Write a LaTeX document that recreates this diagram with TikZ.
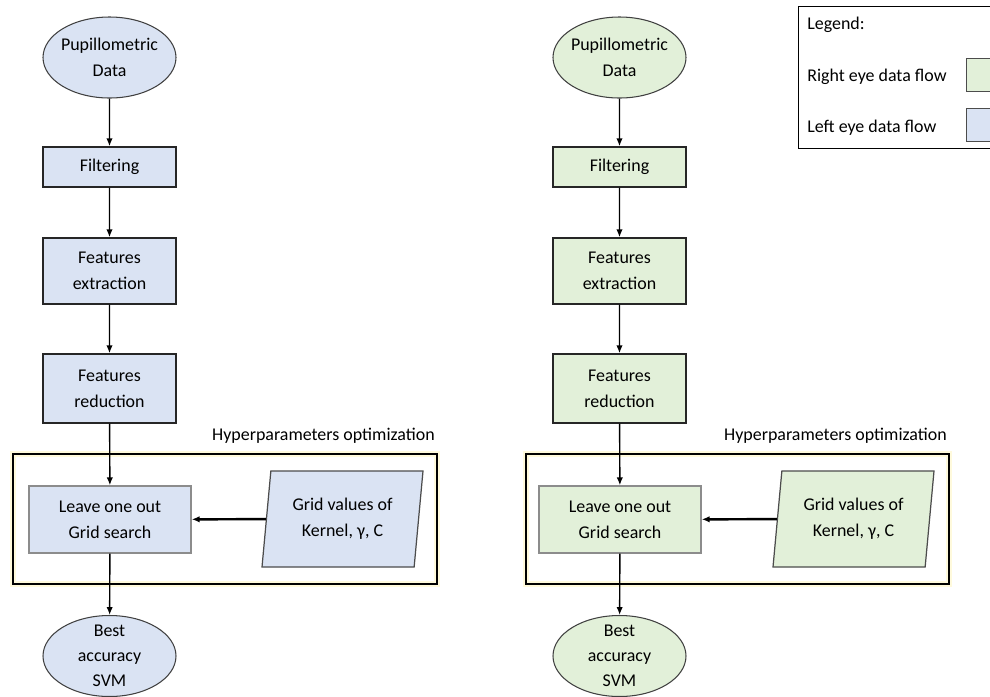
\documentclass[tikz,border=0pt]{standalone}
\usepackage{fontspec}
\setmainfont{Carlito}
\usetikzlibrary{shapes.geometric,arrows.meta}
\definecolor{leftfill}{HTML}{DAE3F3}
\definecolor{rightfill}{HTML}{E2F0D9}
\definecolor{glow}{HTML}{FFFADC}

\tikzset{
	every node/.append style={font=\fontsize{10.2}{15}\selectfont, align=center},
	box/.style={draw=black!85, line width=0.8pt, rectangle, inner sep=0pt, minimum width=2.66cm},
	terminal/.style={draw=black!75, line width=0.6pt, ellipse, inner sep=0pt, minimum width=2.66cm, minimum height=1.62cm},
	searchbox/.style={draw=black!45, line width=0.8pt, rectangle, inner sep=0pt, minimum width=3.24cm, minimum height=1.34cm},
	gridbox/.style={draw=black!70, line width=0.7pt, trapezium, trapezium left angle=78, trapezium right angle=102, trapezium stretches body, inner sep=0pt, minimum width=3.22cm, minimum height=1.92cm},
	frame/.style={draw=black, line width=0.8pt, preaction={draw=glow, line width=3.2pt}, minimum height=2.6cm},
	legendtext/.style={anchor=west, inner sep=0pt},
	swatch/.style={draw=black!70, line width=0.6pt, anchor=north west, minimum width=1cm, minimum height=0.66cm},
	flow/.style={-{Latex[length=4.5pt,width=3.6pt]}, line width=0.8pt},
}

\begin{document}
\begin{tikzpicture}[scale=0.2]
		\useasboundingbox (0,0) rectangle (99,-69.6);
		\clip (0,0) rectangle (99,-69.6);
		% left eye
		\node [terminal, fill=leftfill, label={center:Pupillometric\\Data}] (dataL) at (10.95,-5.75) {};
		\node [box, fill=leftfill, minimum height=0.8cm] (filtL) at (10.95,-16.7) {Filtering};
		\node [box, fill=leftfill, minimum height=1.32cm] (extrL) at (10.95,-27.1) {Features\\extraction};
		\node [box, fill=leftfill, minimum height=1.38cm] (reduL) at (10.95,-38.85) {Features\\reduction};
		\node [frame, minimum width=8.48cm] (hypL) at (22.5,-51.9) {};
		\node [anchor=east, inner sep=0pt] (hypTL) at (43.5,-43.6) {Hyperparameters optimization};
		\node [searchbox, fill=leftfill] (looL) at (11,-51.95) {Leave one out\\Grid search};
		\node [gridbox, fill=leftfill] (gridL) at (34.25,-51.9) {Grid values of\\Kernel, γ, C};
		\node [terminal, fill=leftfill, label={[font=\fontsize{10.2}{14.2}\selectfont]center:Best\\accuracy\\SVM}] (bestL) at (10.95,-65.6) {};
		\draw [flow] (dataL) -- (filtL);
		\draw [flow] (filtL) -- (extrL);
		\draw [flow] (extrL) -- (reduL);
		\draw [flow] (reduL) -- (looL);
		\draw [flow] (looL) -- (bestL);
		\draw [flow, line width=1.4pt] (gridL) -- (looL);
		% right eye
		\node [terminal, fill=rightfill, label={center:Pupillometric\\Data}] (dataR) at (61.95,-5.75) {};
		\node [box, fill=rightfill, minimum height=0.8cm] (filtR) at (61.95,-16.7) {Filtering};
		\node [box, fill=rightfill, minimum height=1.32cm] (extrR) at (61.95,-27.1) {Features\\extraction};
		\node [box, fill=rightfill, minimum height=1.38cm] (reduR) at (61.95,-38.85) {Features\\reduction};
		\node [frame, minimum width=8.46cm] (hypR) at (73.75,-51.9) {};
		\node [anchor=east, inner sep=0pt] (hypTR) at (94.7,-43.6) {Hyperparameters optimization};
		\node [searchbox, fill=rightfill] (looR) at (62,-51.95) {Leave one out\\Grid search};
		\node [gridbox, fill=rightfill] (gridR) at (85.35,-51.9) {Grid values of\\Kernel, γ, C};
		\node [terminal, fill=rightfill, label={[font=\fontsize{10.2}{14.2}\selectfont]center:Best\\accuracy\\SVM}] (bestR) at (61.95,-65.6) {};
		\draw [flow] (dataR) -- (filtR);
		\draw [flow] (filtR) -- (extrR);
		\draw [flow] (extrR) -- (reduR);
		\draw [flow] (reduR) -- (looR);
		\draw [flow] (looR) -- (bestR);
		\draw [flow, line width=1.4pt] (gridR) -- (looR);
		% legend
		\node [draw=black, line width=0.8pt, anchor=north west, minimum width=4.2cm, minimum height=2.84cm] (legend) at (79.8,-0.6) {};
		\node [legendtext] (legT) at (80.7,-2.5) {Legend:};
		\node [legendtext] (legR) at (80.7,-7.7) {Right eye data flow};
		\node [legendtext] (legL) at (80.7,-12.8) {Left eye data flow};
		\node [swatch, fill=rightfill] (swR) at (96.6,-5.8) {};
		\node [swatch, fill=leftfill] (swL) at (96.6,-10.8) {};
	\end{tikzpicture}
\end{document}
